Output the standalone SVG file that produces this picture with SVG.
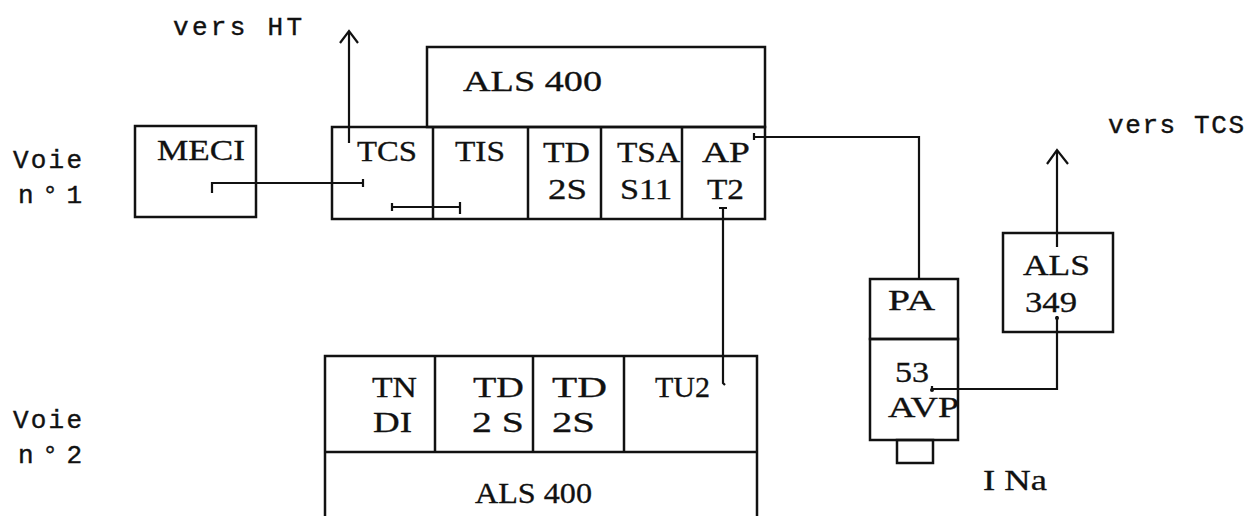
<svg xmlns="http://www.w3.org/2000/svg" width="1260" height="516" viewBox="0 0 1260 516">
<style>
.b{fill:none;stroke:#111;stroke-width:2.5}
.c{fill:none;stroke:#111;stroke-width:2.2}
.t{font-family:"Liberation Serif",serif;font-size:29px;fill:#111;stroke:#111;stroke-width:0.3}
.m{font-family:"Liberation Mono","DejaVu Sans Mono",monospace;font-size:26px;fill:#111;stroke:#111;stroke-width:0.4}
</style>
<rect width="1260" height="516" fill="#fff"/>
<g id="labels">
<text class="m" x="173" y="35" textLength="129" lengthAdjust="spacing">vers HT</text>
<text class="m" x="1108" y="133" textLength="136" lengthAdjust="spacing">vers TCS</text>
<text class="m" x="13" y="168" textLength="69" lengthAdjust="spacing">Voie</text>
<text class="m" x="18" y="203" textLength="64" lengthAdjust="spacing">n°1</text>
<text class="m" x="13" y="428" textLength="69" lengthAdjust="spacing">Voie</text>
<text class="m" x="18" y="463" textLength="64" lengthAdjust="spacing">n°2</text>
<text class="t" x="983" y="490" textLength="64" lengthAdjust="spacingAndGlyphs">I Na</text>
</g>
<g id="meci">
<rect class="b" x="135" y="126" width="121" height="91"/>
<text class="t" x="157" y="160" textLength="88" lengthAdjust="spacingAndGlyphs">MECI</text>
</g>
<g id="als400-top">
<rect class="b" x="427" y="47" width="338" height="80"/>
<text class="t" x="463" y="91" textLength="139" lengthAdjust="spacingAndGlyphs">ALS  400</text>
</g>
<g id="voie1-row">
<rect class="b" x="332" y="127" width="433" height="92"/>
<line class="b" x1="433" y1="127" x2="433" y2="219"/>
<line class="b" x1="528" y1="127" x2="528" y2="219"/>
<line class="b" x1="601" y1="127" x2="601" y2="219"/>
<line class="b" x1="682" y1="127" x2="682" y2="219"/>
<text class="t" x="357" y="161" textLength="60" lengthAdjust="spacingAndGlyphs">TCS</text>
<text class="t" x="455" y="161" textLength="50" lengthAdjust="spacingAndGlyphs">TIS</text>
<text class="t" x="543" y="162" textLength="47" lengthAdjust="spacingAndGlyphs">TD</text>
<text class="t" x="548" y="199" textLength="39" lengthAdjust="spacingAndGlyphs">2S</text>
<text class="t" x="617" y="162" textLength="63" lengthAdjust="spacingAndGlyphs">TSA</text>
<text class="t" x="620" y="199" textLength="52" lengthAdjust="spacingAndGlyphs">S11</text>
<text class="t" x="702" y="162" textLength="48" lengthAdjust="spacingAndGlyphs">AP</text>
<text class="t" x="707" y="199" textLength="37" lengthAdjust="spacingAndGlyphs">T2</text>
</g>
<g id="voie2-row">
<path class="b" d="M325 516V356H757V516"/>
<line class="b" x1="325" y1="452" x2="757" y2="452"/>
<line class="b" x1="435" y1="356" x2="435" y2="452"/>
<line class="b" x1="533" y1="356" x2="533" y2="452"/>
<line class="b" x1="624" y1="356" x2="624" y2="452"/>
<text class="t" x="372" y="397" textLength="45" lengthAdjust="spacingAndGlyphs">TN</text>
<text class="t" x="373" y="432" textLength="39" lengthAdjust="spacingAndGlyphs">DI</text>
<text class="t" x="473" y="397" textLength="51" lengthAdjust="spacingAndGlyphs">TD</text>
<text class="t" x="472" y="432" textLength="52" lengthAdjust="spacingAndGlyphs">2 S</text>
<text class="t" x="552" y="397" textLength="55" lengthAdjust="spacingAndGlyphs">TD</text>
<text class="t" x="552" y="432" textLength="43" lengthAdjust="spacingAndGlyphs">2S</text>
<text class="t" x="655" y="397" textLength="55" lengthAdjust="spacingAndGlyphs">TU2</text>
<text class="t" x="475" y="503" textLength="117" lengthAdjust="spacingAndGlyphs">ALS 400</text>
</g>
<g id="pa-avp">
<rect class="b" x="870" y="279" width="88" height="60"/>
<rect class="b" x="870" y="339" width="88" height="101"/>
<rect class="b" x="897" y="440" width="36" height="23"/>
<text class="t" x="888" y="310" textLength="47" lengthAdjust="spacingAndGlyphs">PA</text>
<text class="t" x="895" y="382" textLength="34" lengthAdjust="spacingAndGlyphs">53</text>
<text class="t" x="888" y="417" textLength="71" lengthAdjust="spacingAndGlyphs">AVP</text>
</g>
<g id="als349">
<rect class="b" x="1003" y="233" width="110" height="99"/>
<text class="t" x="1023" y="275" textLength="67" lengthAdjust="spacingAndGlyphs">ALS</text>
<text class="t" x="1025" y="312" textLength="52" lengthAdjust="spacingAndGlyphs">349</text>
</g>
<g id="connectors">
<path class="c" d="M349 143V32"/>
<path class="c" d="M340 43L349 31L358 43" stroke-width="3.5"/>
<path class="c" d="M212 193V183H363M363 179V187"/>
<path class="c" d="M392 203V211M392 207H460M460 202V214"/>
<path class="c" d="M754 133V140M754 137H919V280"/>
<path class="c" d="M719 208H727M723 208V383L725 385"/>
<path class="c" d="M1057 247V151"/>
<path class="c" d="M1047 164L1057 150L1068 164" stroke-width="3.5"/>
<path class="c" d="M1057 316V389H932V386"/>
<circle cx="1057" cy="318" r="2" fill="#111"/>
<circle cx="932" cy="390" r="2" fill="#111"/>
</g>
</svg>
